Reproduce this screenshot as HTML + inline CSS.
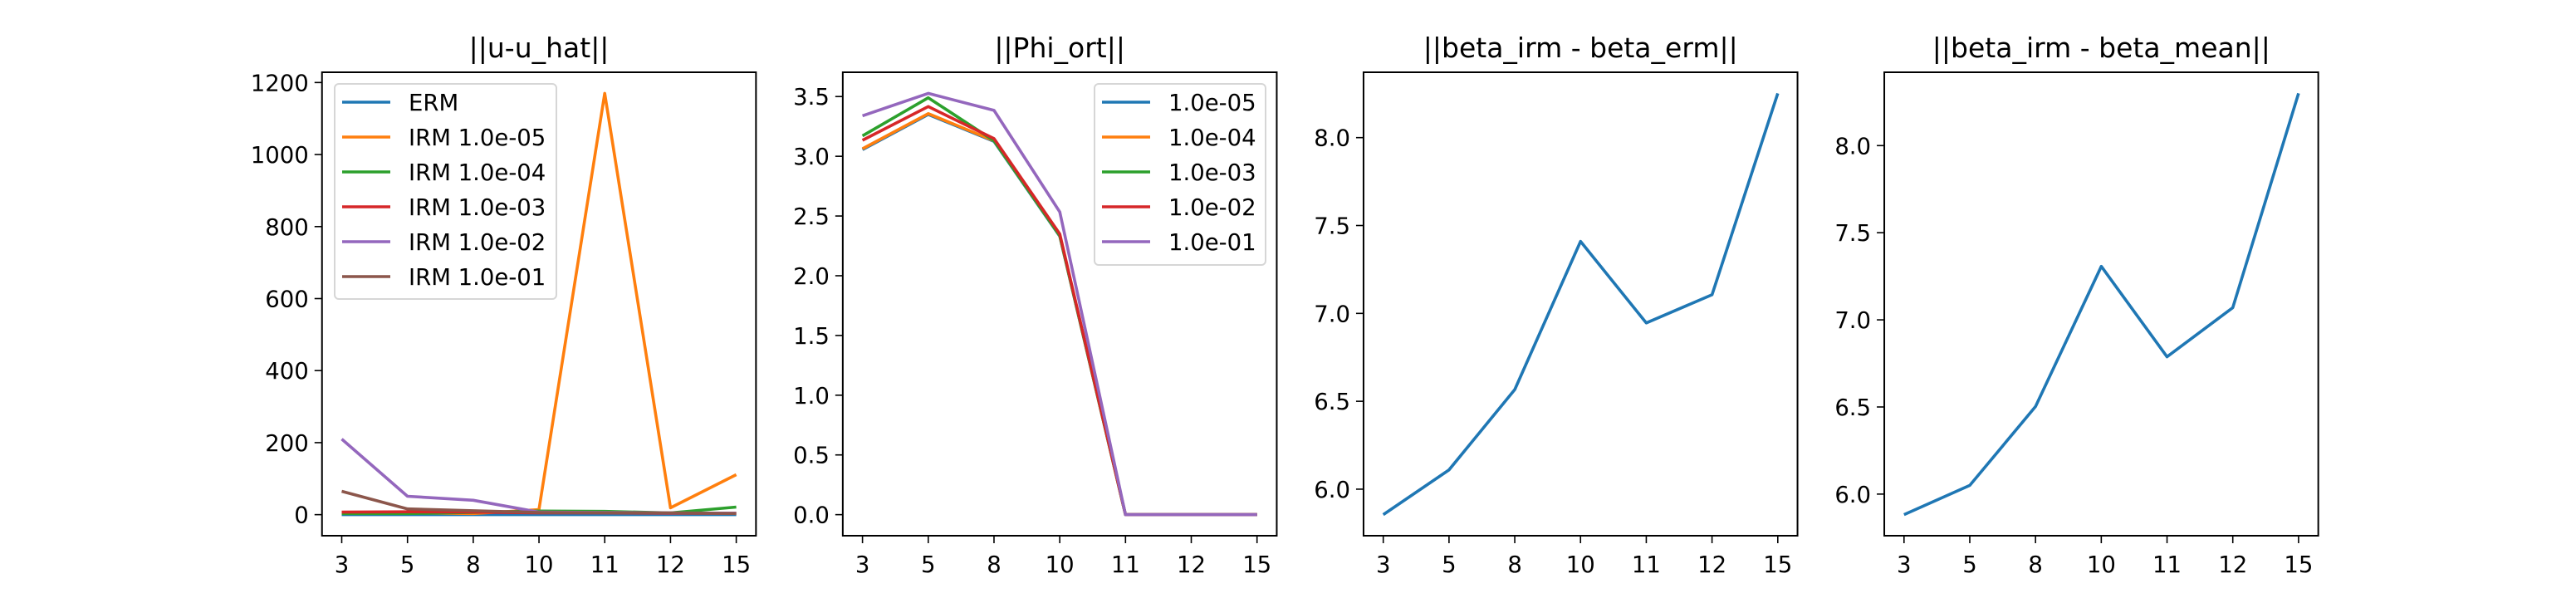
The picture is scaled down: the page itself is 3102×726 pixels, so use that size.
<!DOCTYPE html>
<html><head><meta charset="utf-8"><style>
html,body{margin:0;padding:0;background:#fff;}
svg{display:block;font-family:"DejaVu Sans","Liberation Sans",sans-serif;}
</style></head><body>
<svg id="fig" width="3102" height="726" viewBox="0 0 3102 726" xmlns="http://www.w3.org/2000/svg"></svg>
<script>
const categories = ["3","5","8","10","11","12","15"];
const colors = ["#1f77b4","#ff7f0e","#2ca02c","#d62728","#9467bd","#8c564b"];
// Panel 1: ||u-u_hat||
const p1Labels = ["ERM","IRM 1.0e-05","IRM 1.0e-04","IRM 1.0e-03","IRM 1.0e-02","IRM 1.0e-01"];
const p1Erm = [0,0,0,0,0,0,0];
const p1Irm5 = [5,5,3,14,1170,19,111];
const p1Irm4 = [3,3,6,10,9,5,21];
const p1Irm3 = [7,8,7,5,5,4,4];
const p1Irm2 = [210,51,40,7,6,5,4];
const p1Irm1 = [65,16,11,6,5,5,3];
const p1Ticks = [0,200,400,600,800,1000,1200];
// Panel 2: ||Phi_ort||
const p2Labels = ["1.0e-05","1.0e-04","1.0e-03","1.0e-02","1.0e-01"];
const p2S5 = [3.055,3.35,3.125,2.33,0,0,0];
const p2S4 = [3.063,3.357,3.13,2.335,0,0,0];
const p2S3 = [3.171,3.49,3.13,2.335,0,0,0];
const p2S2 = [3.134,3.416,3.148,2.349,0,0,0];
const p2S1 = [3.339,3.527,3.384,2.534,0,0,0];
const p2Ticks = [0,0.5,1,1.5,2,2.5,3,3.5];
// Panel 3 & 4
const p3Vals = [5.855,6.11,6.567,7.41,6.946,7.106,8.252];
const p4Vals = [5.882,6.05,6.503,7.307,6.788,7.07,8.3];
const p34Ticks = [6,6.5,7,7.5,8];

const NS="http://www.w3.org/2000/svg";
const svgEl=document.getElementById('fig');
function mk(tag,attrs,parent){const e=document.createElementNS(NS,tag);for(const k in attrs)e.setAttribute(k,attrs[k]);(parent||svgEl).appendChild(e);return e;}

const yTop=87, yBot=645, W=522.6, gap=104.5, left0=387.75;
function panel(idx,title,series,ticks,fmt,legend){
  const x0=left0+idx*(W+gap), x1=x0+W;
  let mn=Infinity,mx=-Infinity;
  series.forEach(s=>s.forEach(v=>{mn=Math.min(mn,v);mx=Math.max(mx,v);}));
  const pad=(mx-mn)*0.05, lo=mn-pad, hi=mx+pad;
  const yS=v=>yBot-(v-lo)/(hi-lo)*(yBot-yTop);
  const xS=i=>x0+(i+0.3)/6.6*W;
  const g=mk('g',{});
  
  
  const t=mk('text',{x:(x0+x1)/2,y:yTop-18,'text-anchor':'middle','font-size':33},g);
  t.textContent=title;
  
  
  ticks.forEach(v=>{const y=yS(v);
    mk('line',{x1:x0-9,x2:x0,y1:y,y2:y,stroke:'#000','stroke-width':1.6},g);
    const tt=mk('text',{x:x0-16,y:y+10,'text-anchor':'end','font-size':27.5},g);
    tt.textContent=fmt(v);
    
    });
  categories.forEach((c,i)=>{const x=xS(i);
    mk('line',{x1:x,x2:x,y1:yBot,y2:yBot+9,stroke:'#000','stroke-width':1.6},g);
    const tt=mk('text',{x:x,y:yBot+44,'text-anchor':'middle','font-size':27.5},g);
    tt.textContent=c;
    
    });
  series.forEach((s,k)=>{
    const pl=mk('polyline',{points:s.map((v,i)=>xS(i).toFixed(1)+','+yS(v).toFixed(1)).join(' '),fill:'none',stroke:colors[k],'stroke-width':3.6,'stroke-linejoin':'round'},g);
    
    });
  mk('rect',{x:x0,y:yTop,width:W,height:yBot-yTop,fill:'none',stroke:'#000','stroke-width':2},g);
  if(legend){
    const lg=mk('g',{},g);
    
    
    mk('rect',{x:legend.x,y:legend.y,width:legend.w,height:legend.h,rx:5,fill:'#fff','fill-opacity':0.8,stroke:'#d6d6d6','stroke-width':2},lg);
    legend.labels.forEach((l,k)=>{const y=legend.y+22+k*42;
      mk('line',{x1:legend.x+9,x2:legend.x+67,y1:y,y2:y,stroke:colors[k],'stroke-width':3.6},lg);
      const tt=mk('text',{x:legend.x+89,y:y+10,'font-size':27.5},lg);
      tt.textContent=l;
      
      });
  }
}
panel(0,'||u-u_hat||',[p1Erm,p1Irm5,p1Irm4,p1Irm3,p1Irm2,p1Irm1],p1Ticks,v=>String(v),{x:403,y:101,w:267,h:259,labels:p1Labels});
panel(1,'||Phi_ort||',[p2S5,p2S4,p2S3,p2S2,p2S1],p2Ticks,v=>v.toFixed(1),{x:1318,y:101,w:206,h:218,labels:p2Labels});
panel(2,'||beta_irm - beta_erm||',[p3Vals],p34Ticks,v=>v.toFixed(1),null);
panel(3,'||beta_irm - beta_mean||',[p4Vals],p34Ticks,v=>v.toFixed(1),null);
</script>
</body></html>
